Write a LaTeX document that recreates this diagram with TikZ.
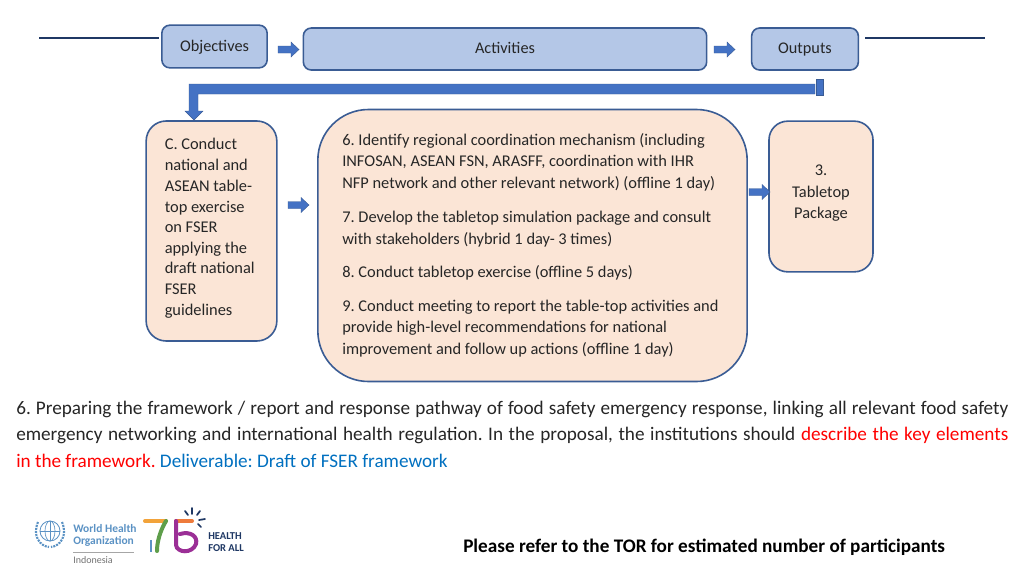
\documentclass[tikz,border=0pt]{standalone}
\usepackage{fontspec}
\setmainfont{Carlito}
\frenchspacing
\definecolor{hdrfill}{HTML}{B4C7E7}
\definecolor{hdredge}{HTML}{3A5C94}
\definecolor{bodyfill}{HTML}{FBE5D6}
\definecolor{arrowblue}{HTML}{4472C4}
\definecolor{navy}{HTML}{1F3864}
\definecolor{txt}{HTML}{262626}
\definecolor{delivblue}{HTML}{0070C0}
\definecolor{whoblue}{HTML}{5B92C4}
\definecolor{sevenorange}{HTML}{F2A33A}
\definecolor{sevengreen}{HTML}{5E9E4A}
\definecolor{fivered}{HTML}{EE7B3C}
\definecolor{fivepurple}{HTML}{9B2F96}
\tikzset{
 hdr/.style={draw=hdredge,line width=1.2pt,fill=hdrfill,rounded corners=6pt,inner sep=0pt,text=txt,font=\fontsize{12.2}{14}\selectfont},
 bodybox/.style={draw=hdredge,line width=1.2pt,fill=bodyfill,inner sep=0pt,text=txt},
 blockarrow/.style={fill=arrowblue,draw=hdredge,line width=.3pt},
 rule/.style={draw=navy,line width=1pt},
 para/.style={anchor=base west,inner sep=0pt,font=\fontsize{14.4}{16}\selectfont,text=txt},
 boxtxt/.style={anchor=base west,inner sep=0pt,text=txt,font=\fontsize{12.3}{14}\selectfont},
}
\newcommand{\rarrow}[2]{\fill[blockarrow] (#1,#2) ++(-10,-3.5) -- ++(13,0) -- ++(0,-4) -- ++(8,7.5) -- ++(-8,7.5) -- ++(0,-4) -- ++(-13,0) -- cycle;}
\newcommand{\jline}[3]{\node[para] (#1) at #2 {\makebox[744pt][s]{#3}};}
\begin{document}
\begin{tikzpicture}[x=0.75pt,y=-0.75pt]
\useasboundingbox (0,0) rectangle (1024,576);
\fill[white] (0,0) rectangle (1024,576);
% header
\node[hdr,minimum width=79pt,minimum height=32pt] (obj) at (214.5,46.5) {};
\node[text=txt,inner sep=0pt,anchor=base,font=\fontsize{12.2}{14}\selectfont] (objt) at (214.5,51) {Objectives};
\node[hdr,minimum width=302.5pt,minimum height=31.5pt] (act) at (505,49) {};
\node[text=txt,inner sep=0pt,anchor=base,font=\fontsize{12.2}{14}\selectfont] (actt) at (505,53) {Activities};
\node[hdr,minimum width=80pt,minimum height=31.5pt] (out) at (805,49) {};
\node[text=txt,inner sep=0pt,anchor=base,font=\fontsize{12.2}{14}\selectfont] (outt) at (805,53) {Outputs};
\coordinate (l1a) at (39,38); \coordinate (l1b) at (159,38);
\coordinate (l2a) at (865,38); \coordinate (l2b) at (985,38);
\draw[rule] (l1a) -- (l1b);
\draw[rule] (l2a) -- (l2b);
\rarrow{288}{49.5}
\rarrow{724}{49.5}
% feedback bar
\fill[blockarrow] (815,84) -- (189,84) -- (189,111) -- (185,111) -- (194,120) -- (203,111) -- (198,111) -- (198,94) -- (815,94) -- cycle;
\fill[blockarrow] (816,79) rectangle (823,95);
% bodies
\node[bodybox,rounded corners=15pt,minimum width=98pt,minimum height=165pt] (c) at (211.5,231) {};
\node[bodybox,rounded corners=38pt,minimum width=322pt,minimum height=204pt] (mid) at (532.5,245.5) {};
\node[bodybox,rounded corners=14pt,minimum width=78pt,minimum height=113pt] (pkg) at (821,196.5) {};
\rarrow{298}{205}
\rarrow{759}{192}
% left text
\node[boxtxt] (c1) at (164.5,149.5) {C. Conduct};
\node[boxtxt] (c2) at (164.5,170.5) {national and};
\node[boxtxt] (c3) at (164.5,191.5) {ASEAN table-};
\node[boxtxt] (c4) at (164.5,212.5) {top exercise};
\node[boxtxt] (c5) at (164.5,232.5) {on FSER};
\node[boxtxt] (c6) at (164.5,253.5) {applying the};
\node[boxtxt] (c7) at (164.5,273.5) {draft national};
\node[boxtxt] (c8) at (164.5,294.5) {FSER};
\node[boxtxt] (c9) at (164.5,315.5) {guidelines};
% mid text
\node[boxtxt] (m1) at (342,145.5) {6. Identify regional coordination mechanism (including};
\node[boxtxt] (m2) at (342,166.5) {INFOSAN, ASEAN FSN, ARASFF, coordination with IHR};
\node[boxtxt] (m3) at (342,188.5) {NFP network and other relevant network) (offline 1 day)};
\node[boxtxt] (m4) at (342,222.5) {7. Develop the tabletop simulation package and consult};
\node[boxtxt] (m5) at (342,244.5) {with stakeholders (hybrid 1 day- 3 times)};
\node[boxtxt] (m6) at (342,277.5) {8. Conduct tabletop exercise (offline 5 days)};
\node[boxtxt] (m7) at (342,311.5) {9. Conduct meeting to report the table-top activities and};
\node[boxtxt] (m8) at (342,332.5) {provide high-level recommendations for national};
\node[boxtxt] (m9) at (342,354.5) {improvement and follow up actions (offline 1 day)};
% right text
\node[boxtxt,anchor=base] (p1) at (821,175.5) {3.};
\node[boxtxt,anchor=base] (p2) at (821,197.5) {Tabletop};
\node[boxtxt,anchor=base] (p3) at (821,218.5) {Package};
% paragraph
\jline{t1}{(16,414)}{6. Preparing the framework / report and response pathway of food safety emergency response, linking all relevant food safety}
\jline{t2}{(16,440)}{emergency networking and international health regulation. In the proposal, the institutions should \textcolor{red}{describe the key elements}}
\node[para] (t3) at (16,467) {\textcolor{red}{in the framework.} \textcolor{delivblue}{Deliverable: Draft of FSER framework}};
\node[para,text=black,font=\bfseries\fontsize{14.4}{16}\selectfont] (ref) at (463,552) {Please refer to the TOR for estimated number of participants};
% WHO logo
\begin{scope}[whoblue]
 \draw[line width=.6pt] (50,531) circle (10);
 \draw[line width=.5pt] (50,531) ellipse (5 and 10);
 \draw[line width=.5pt] (40,531) -- (60,531) (50,521) -- (50,541);
 \draw[line width=1.6pt,dash pattern=on 1.5pt off .8pt] (38,522) .. controls (32,536) and (40,546) .. (49,547);
 \draw[line width=1.6pt,dash pattern=on 1.5pt off .8pt] (62,522) .. controls (68,536) and (60,546) .. (51,547);
\end{scope}
\node[anchor=base west,inner sep=0pt,text=whoblue,font=\bfseries\fontsize{8.6}{9}\selectfont] (w1) at (73,532) {World Health};
\node[anchor=base west,inner sep=0pt,text=whoblue,font=\bfseries\fontsize{8.6}{9}\selectfont] (w2) at (73,544) {Organization};
\draw[gray!70,line width=.5pt] (73,552) -- (134,552);
\node[anchor=base west,inner sep=0pt,text=gray!90!black,font=\fontsize{7.5}{9}\selectfont] (w3) at (73,563) {Indonesia};
% 75
\draw[line width=3pt,draw=sevenorange,line cap=round] (145,521) -- (166,521);
\draw[line width=3pt,draw=sevengreen,line cap=round] (166,521) .. controls (160,531) and (157,542) .. (157,551);
\draw[line width=2pt,draw=whoblue] (151,540) -- (151,552);
\draw[line width=3pt,draw=fivered,line cap=round] (192,521) -- (176,521);
\draw[line width=3pt,draw=fivepurple,line cap=round] (176,521) -- (176,545) .. controls (177,553) and (192,554) .. (196,544) .. controls (198,536) and (190,531) .. (180,534);
\draw[line width=1.3pt,draw=navy,line cap=round] (192,508) -- (192,514) (185,511) -- (188,515) (200,511) -- (197,515) (199,520) -- (205,519) (198,524) -- (201,527);
\node[anchor=base west,inner sep=0pt,text=navy,font=\bfseries\fontsize{7.9}{9}\selectfont] (h1) at (208,539) {HEALTH};
\node[anchor=base west,inner sep=0pt,text=navy,font=\bfseries\fontsize{7.9}{9}\selectfont] (h2) at (208,551) {FOR ALL};
\end{tikzpicture}
\end{document}
